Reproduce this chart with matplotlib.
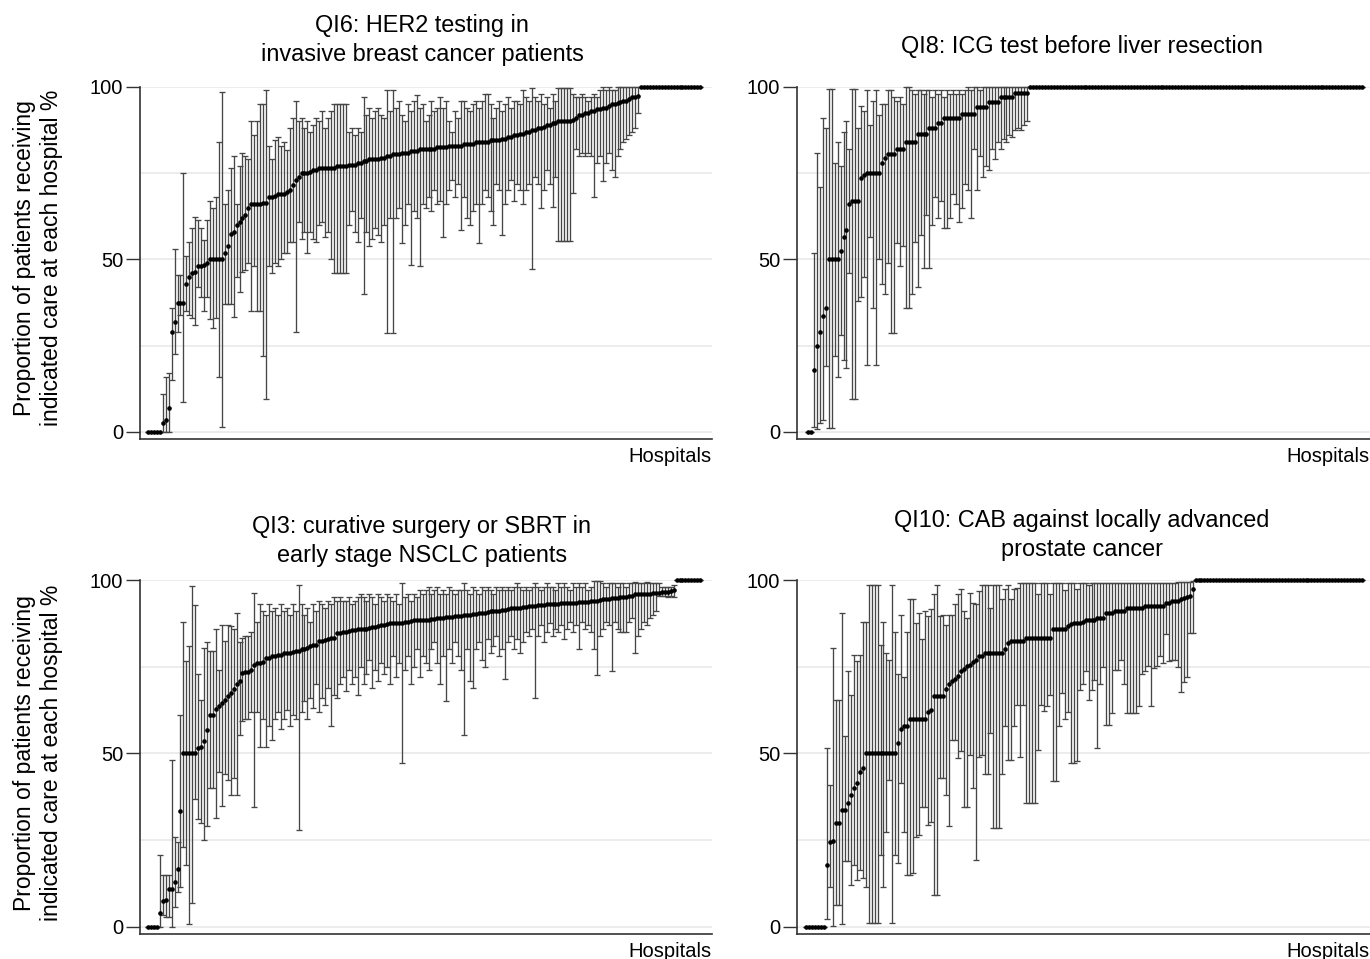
import numpy as np
import matplotlib
matplotlib.use("Agg")
import matplotlib.pyplot as plt

# QI6: HER2 testing (top left) - point estimate and 95% CI per hospital, sorted
qi6_rate = [
    0, 0, 0, 0, 0, 2.5, 3.5, 7, 29, 32,
    37.5, 37.5, 37.5, 43, 45, 46, 46.5, 48, 48, 48.5,
    49, 50, 50, 50, 50, 50, 52, 54, 57.5, 58,
    60, 61, 62, 63, 65, 66, 66, 66, 66, 66.5,
    66.5, 68, 68, 68.5, 69, 69, 69, 69.5, 70, 71.5,
    73, 74, 75, 75, 75, 75.5, 76, 76, 76.5, 76.5,
    76.5, 76.5, 76.5, 76.5, 77, 77, 77, 77, 77.5, 77.5,
    77.5, 78, 78, 78.5, 78.5, 79, 79, 79, 79, 79.5,
    79.5, 80, 80, 80.5, 80.5, 80.5, 81, 81, 81, 81.5,
    81.5, 81.5, 82, 82, 82, 82, 82, 82, 82.5, 82.5,
    82.5, 82.5, 83, 83, 83, 83, 83, 83.5, 83.5, 83.5,
    83.5, 84, 84, 84, 84, 84, 84.5, 84.5, 84.5, 84.5,
    85, 85, 85.5, 85.5, 86, 86, 86.5, 86.5, 87, 87,
    87.5, 87.5, 88, 88, 88.5, 89, 89, 89.5, 89.5, 90,
    90, 90, 90, 90, 90.5, 91, 92, 92, 92.5, 92.5,
    93, 93, 93.5, 93.5, 94, 94, 94.5, 95, 95, 95.5,
    95.6, 96, 96, 96.5, 97, 97, 97.5, 100, 100, 100,
    100, 100, 100, 100, 100, 100, 100, 100, 100, 100,
    100, 100, 100, 100, 100, 100, 100, 100,
]
qi6_lo = [
    0, 0, 0, 0, 0, 0, 0, 0, 15, 22.5,
    29, 34, 8.6, 35, 34, 33, 31, 42, 39, 35,
    39, 32.7, 30, 33, 16, 1.5, 37, 37, 37, 33.4,
    45, 40.7, 46.5, 47, 49, 35, 48, 35, 35, 22,
    9.5, 48, 46, 49, 48, 50, 52, 52, 55, 55,
    29, 61, 56, 58, 52, 58, 56, 55, 60, 61,
    56.6, 58, 50, 46, 46, 46, 46, 46, 60, 64,
    58, 55, 62, 40, 58, 54, 56, 59, 57, 55,
    60, 28.6, 62, 28.6, 62, 65, 54.7, 60, 66, 48.4,
    64, 62, 48, 66, 65, 68, 64, 70, 66, 67,
    56.6, 66, 70, 73, 68, 72, 58.5, 68, 62, 60,
    64, 66, 54.7, 66, 70, 68, 64, 60, 72, 70,
    57, 66, 70, 73, 67, 72, 70, 66, 70, 72,
    47.2, 74, 72, 65, 70, 76, 72, 65.3, 74, 55.5,
    55.5, 55.5, 55.5, 55.5, 69.4, 82, 80, 81, 80, 81,
    80, 68, 78, 80, 72.7, 78, 81, 76, 74, 80,
    82, 84, 85, 86, 87, 88, 92.4, 100, 100, 100,
    100, 100, 100, 100, 100, 100, 100, 100, 100, 100,
    100, 100, 100, 100, 100, 100, 100, 100,
]
qi6_hi = [
    0, 0, 0, 0, 0, 11, 16, 17, 36, 53,
    45.5, 45.5, 75, 51, 55, 59, 62.4, 61.5, 59, 55.7,
    61.5, 67, 65, 68, 84, 98.6, 66, 70, 76.4, 80,
    66, 77, 81, 80, 79, 90, 86, 90, 95, 95,
    99, 83, 79, 84.6, 85.6, 83, 84, 81.7, 88, 91,
    96, 90, 91, 88, 90, 87, 89, 91, 90, 93,
    88, 91, 93, 95, 95, 95, 95, 95, 87, 88,
    86, 88, 87, 97, 92, 94, 91, 93, 94, 92,
    91, 99, 93, 99, 94, 96, 92, 90, 95, 93,
    96, 97.7, 94, 95, 90, 92, 96, 93, 94, 97,
    94, 96, 90, 87, 93, 91, 96, 96, 94, 93,
    95, 96, 94, 96, 98, 98, 95, 91, 94, 96,
    93, 95, 97, 94, 96, 96, 95, 99, 97, 96,
    99.6, 97, 96, 98, 95, 97, 94, 98, 96, 99.6,
    99.6, 99.6, 99.6, 99.6, 98, 97, 97, 98, 97, 96,
    97, 98, 97, 99, 100, 99, 100, 99, 99, 100,
    100, 100, 100, 100, 100, 100, 100, 100, 100, 100,
    100, 100, 100, 100, 100, 100, 100, 100, 100, 100,
    100, 100, 100, 100, 100, 100, 100, 100,
]

# QI8: ICG test before liver resection (top right)
qi8_rate = [
    0, 0, 18, 25, 29, 33.5, 36, 50, 50, 50,
    50, 52.5, 56.5, 58.5, 66, 67, 67, 67, 73.5, 74.5,
    75, 75, 75, 75, 75, 78, 79.5, 80.6, 80.6, 80.6,
    82, 82, 82, 84.2, 84.2, 84.2, 84.2, 86.4, 86.4, 86.4,
    86.4, 88, 88, 88, 89.7, 89.7, 90.9, 90.9, 90.9, 90.9,
    90.9, 90.9, 92.2, 92.2, 92.2, 92.2, 92.2, 94.3, 94.3, 94.3,
    94.3, 95.7, 95.7, 95.7, 95.7, 97.2, 97.2, 97.2, 97.2, 97.2,
    98.2, 98.2, 98.2, 98.2, 98.2, 100, 100, 100, 100, 100,
    100, 100, 100, 100, 100, 100, 100, 100, 100, 100,
    100, 100, 100, 100, 100, 100, 100, 100, 100, 100,
    100, 100, 100, 100, 100, 100, 100, 100, 100, 100,
    100, 100, 100, 100, 100, 100, 100, 100, 100, 100,
    100, 100, 100, 100, 100, 100, 100, 100, 100, 100,
    100, 100, 100, 100, 100, 100, 100, 100, 100, 100,
    100, 100, 100, 100, 100, 100, 100, 100, 100, 100,
    100, 100, 100, 100, 100, 100, 100, 100, 100, 100,
    100, 100, 100, 100, 100, 100, 100, 100, 100, 100,
    100, 100, 100, 100, 100, 100, 100, 100, 100, 100,
    100, 100, 100, 100, 100, 100, 100, 100,
]
qi8_lo = [
    0, 0, 1.5, 1, 2.5, 3.5, 19, 1.2, 1.2, 22,
    16, 28, 21, 18.5, 46, 9.5, 9.5, 38, 39, 45,
    19.4, 56.6, 36, 19.4, 50, 43, 40, 49, 28.6, 28.6,
    54.7, 48, 54, 35.8, 35.8, 40, 55, 42, 57, 47.4,
    63, 47.4, 60, 68, 62, 67, 59, 59, 62, 69,
    66, 61, 65, 72, 70, 62, 82, 70, 80, 74,
    77, 76, 82, 79, 84, 82, 85, 84, 86, 85.6,
    87.5, 88, 87.5, 89, 90, 100, 100, 100, 100, 100,
    100, 100, 100, 100, 100, 100, 100, 100, 100, 100,
    100, 100, 100, 100, 100, 100, 100, 100, 100, 100,
    100, 100, 100, 100, 100, 100, 100, 100, 100, 100,
    100, 100, 100, 100, 100, 100, 100, 100, 100, 100,
    100, 100, 100, 100, 100, 100, 100, 100, 100, 100,
    100, 100, 100, 100, 100, 100, 100, 100, 100, 100,
    100, 100, 100, 100, 100, 100, 100, 100, 100, 100,
    100, 100, 100, 100, 100, 100, 100, 100, 100, 100,
    100, 100, 100, 100, 100, 100, 100, 100, 100, 100,
    100, 100, 100, 100, 100, 100, 100, 100, 100, 100,
    100, 100, 100, 100, 100, 100, 100, 100,
]
qi8_hi = [
    0, 0, 52, 81, 71, 91, 88, 99.3, 99.3, 78,
    84, 77, 87, 90, 82, 99.3, 99.3, 88, 94.5, 93,
    99, 89, 96, 99, 92, 95, 95, 99, 99, 97,
    96, 97, 95, 100, 100, 99, 98, 99, 99, 98,
    99, 99, 97, 99, 98, 99, 97, 99, 98, 99,
    98, 99, 98, 99, 100, 99, 100, 100, 99, 100,
    100, 100, 100, 100, 100, 100, 100, 100, 100, 100,
    100, 100, 100, 100, 100, 100, 100, 100, 100, 100,
    100, 100, 100, 100, 100, 100, 100, 100, 100, 100,
    100, 100, 100, 100, 100, 100, 100, 100, 100, 100,
    100, 100, 100, 100, 100, 100, 100, 100, 100, 100,
    100, 100, 100, 100, 100, 100, 100, 100, 100, 100,
    100, 100, 100, 100, 100, 100, 100, 100, 100, 100,
    100, 100, 100, 100, 100, 100, 100, 100, 100, 100,
    100, 100, 100, 100, 100, 100, 100, 100, 100, 100,
    100, 100, 100, 100, 100, 100, 100, 100, 100, 100,
    100, 100, 100, 100, 100, 100, 100, 100, 100, 100,
    100, 100, 100, 100, 100, 100, 100, 100, 100, 100,
    100, 100, 100, 100, 100, 100, 100, 100,
]

# QI3: curative surgery or SBRT in early stage NSCLC (bottom left)
qi3_rate = [
    0, 0, 0, 0, 4.1, 7.5, 7.8, 10.9, 10.9, 13,
    16.7, 33.3, 50, 50, 50, 50, 50, 51.6, 52, 53.7,
    56.9, 61.2, 61.2, 62.7, 63.8, 64.6, 65.5, 66.5, 67.5, 68.6,
    69.9, 70.8, 73.2, 73.4, 73.4, 74.2, 75.6, 76.1, 76.1, 76.5,
    77.6, 77.6, 78, 78, 78.5, 78.5, 79, 79, 79, 79.3,
    79.5, 79.5, 80, 80, 80.5, 81, 81.4, 81.4, 82.4, 82.4,
    82.8, 83, 83.3, 83.3, 84.8, 84.8, 85, 85, 85.2, 85.5,
    85.5, 85.8, 85.8, 86, 86, 86.3, 86.5, 86.5, 86.8, 87,
    87, 87.2, 87.5, 87.5, 87.7, 87.7, 87.7, 88, 88, 88.2,
    88.4, 88.6, 88.6, 88.6, 88.6, 88.6, 88.8, 88.8, 89, 89,
    89, 89.2, 89.2, 89.4, 89.6, 89.6, 89.6, 89.8, 90, 90,
    90.2, 90.2, 90.4, 90.6, 90.6, 90.8, 91, 91, 91.2, 91.2,
    91.4, 91.4, 91.6, 91.8, 92, 92, 92, 92.2, 92.3, 92.5,
    92.5, 92.6, 92.7, 92.8, 92.8, 93, 93, 93, 93.1, 93.2,
    93.3, 93.3, 93.4, 93.5, 93.5, 93.5, 93.6, 93.7, 93.8, 93.8,
    94, 94, 94, 94.2, 94.4, 94.5, 94.6, 94.7, 94.8, 94.9,
    95, 95, 95, 95.3, 95.5, 95.9, 95.9, 95.9, 96, 96,
    96, 96.3, 96.3, 96.3, 96.5, 96.6, 96.6, 96.8, 97, 100,
    100, 100, 100, 100, 100, 100, 100, 100,
]
qi3_lo = [
    0, 0, 0, 0, 0, 3.5, 3, 3, 0, 5.9,
    10, 11.6, 23, 18, 1, 6.8, 37, 31, 30, 25,
    29, 40, 40, 31.4, 44.8, 35, 44, 42.5, 38, 43,
    38, 55.4, 59.3, 59.8, 59.8, 61.9, 34.5, 62, 52, 60,
    52, 58, 54, 60, 62, 57, 60, 62.6, 58, 61,
    60, 28, 62, 65, 60, 66, 63, 70, 62, 66,
    64, 69, 58, 67, 66, 70, 72, 68, 74, 70,
    72, 67, 75, 70, 73, 77, 69, 74, 71, 76,
    73, 75, 70, 78, 72, 76, 47.2, 74, 78, 70,
    75, 80, 72, 78, 76, 74, 80, 82, 76, 70,
    78, 65, 80, 76, 82, 78, 74, 55.4, 80, 71,
    69, 80, 82, 77, 75, 83, 79, 81, 84, 78,
    80, 71.5, 82, 84, 80, 83, 79, 82, 85, 84,
    86, 66, 84, 87, 82, 85, 87.6, 84, 86, 85,
    87, 83, 86, 88, 85, 87, 80, 88, 86, 87,
    85, 80, 72.5, 84, 86, 88, 87, 73.7, 88, 86,
    85, 85, 85, 88, 89, 79, 84, 86, 88, 87,
    89, 90, 91, 95.4, 95.4, 95.4, 95, 95.4, 95, 100,
    100, 100, 100, 100, 100, 100, 100, 100,
]
qi3_hi = [
    0, 0, 0, 0, 20.8, 15, 15, 15, 48, 25.8,
    24.4, 61, 88, 76.6, 81, 98.4, 92.7, 72.8, 65.5, 80.5,
    82, 79.5, 79.5, 85.8, 74, 87, 82.4, 87, 86.7, 86,
    90.6, 82, 83.3, 83.8, 83.8, 85, 96.3, 88, 93, 91,
    90, 93, 91, 92, 90, 93, 91, 92, 90, 93,
    91, 98.7, 93, 90, 92, 88, 93, 91, 94, 93,
    92, 94, 93, 95, 94, 95, 94, 94, 95, 93,
    94, 95, 96, 95, 94, 96, 95, 93, 96, 95,
    94, 96, 95, 94, 96, 93, 99.2, 95, 96, 94,
    96, 95, 97, 96, 97, 98, 96, 97, 98, 96,
    97, 96, 98, 97, 96, 97, 97, 99.2, 97, 96,
    98, 97, 96, 98, 97, 98, 97, 96, 98, 97,
    98, 97, 98, 97, 98, 99, 98, 97, 98, 97,
    98, 99.2, 98, 97, 98, 99, 98, 98, 97, 99,
    98, 99, 98, 97, 99, 98, 99, 98, 99, 97,
    98, 99.6, 99.6, 99.6, 99, 98, 99, 99, 99, 98,
    99, 99, 98, 99, 99, 99.5, 99, 99, 99, 99.5,
    99, 99, 99, 99, 98, 98, 98, 98, 98.5, 100,
    100, 100, 100, 100, 100, 100, 100, 100,
]

# QI10: CAB against locally advanced prostate cancer (bottom right)
qi10_rate = [
    0, 0, 0, 0, 0, 0, 0, 18, 24.4, 24.8,
    30, 30, 33.6, 33.6, 35.7, 38, 40, 41.5, 44.8, 45.8,
    50, 50, 50, 50, 50, 50, 50, 50, 50, 50,
    50, 53, 57, 58, 58, 60, 60, 60, 60, 60,
    60, 61.9, 62.6, 66.5, 66.5, 66.5, 66.5, 68.6, 70, 70.8,
    71.5, 72.3, 73.7, 74.4, 75.2, 75.6, 76.3, 77, 78, 78,
    79, 79, 79, 79, 79, 79, 79, 80, 81.7, 82.4,
    82.4, 82.4, 82.4, 82.4, 83.3, 83.3, 83.3, 83.3, 83.3, 83.3,
    83.3, 83.3, 83.3, 85.8, 85.8, 85.8, 85.8, 85.8, 86.7, 87.2,
    87.7, 87.7, 87.7, 88, 88.6, 88.6, 88.6, 88.6, 89.1, 89.1,
    89.1, 90.6, 90.6, 90.6, 91, 91, 91, 91, 92, 92,
    92, 92, 92, 92, 92.5, 92.5, 92.5, 92.5, 92.5, 92.5,
    92.5, 93.5, 93.5, 94, 94, 94, 94.4, 94.8, 95, 95.4,
    97.3, 100, 100, 100, 100, 100, 100, 100, 100, 100,
    100, 100, 100, 100, 100, 100, 100, 100, 100, 100,
    100, 100, 100, 100, 100, 100, 100, 100, 100, 100,
    100, 100, 100, 100, 100, 100, 100, 100, 100, 100,
    100, 100, 100, 100, 100, 100, 100, 100, 100, 100,
    100, 100, 100, 100, 100, 100, 100, 100,
]
qi10_lo = [
    0, 0, 0, 0, 0, 0, 0, 2.2, 11.6, 0.3,
    6.4, 6.4, 1, 19, 19, 12, 18, 13.6, 16.5, 14,
    11.6, 1.2, 1.2, 1.2, 1.2, 20.8, 11.6, 27.5, 42.4, 1.2,
    20.8, 18.4, 41.5, 27.5, 15, 15, 15.5, 26, 26.5, 34.7,
    34.7, 29.5, 30.4, 9.2, 9.2, 43, 43, 38, 29, 54,
    54, 48.7, 50.6, 34.7, 34.7, 49.7, 40, 19.3, 49, 49.7,
    44, 44, 56, 28.5, 28.5, 28.5, 44, 57.8, 48, 48,
    57.8, 64, 49, 64, 35.7, 35.7, 35.7, 35.7, 51, 64,
    62.2, 63.6, 67, 42, 42, 57.8, 67.3, 59.8, 62, 47.2,
    47.2, 47.7, 68.4, 70, 73.7, 65.5, 68.4, 71.3, 51.6, 70,
    75, 58.3, 58.3, 61.7, 74, 74, 77, 70, 61.7, 61.7,
    61.7, 61.7, 63.6, 72.8, 73.7, 75.2, 63.6, 74.7, 75.2, 78,
    76, 84.3, 76.6, 77, 77, 75, 67.7, 70.7, 72, 84.7,
    84.8, 100, 100, 100, 100, 100, 100, 100, 100, 100,
    100, 100, 100, 100, 100, 100, 100, 100, 100, 100,
    100, 100, 100, 100, 100, 100, 100, 100, 100, 100,
    100, 100, 100, 100, 100, 100, 100, 100, 100, 100,
    100, 100, 100, 100, 100, 100, 100, 100, 100, 100,
    100, 100, 100, 100, 100, 100, 100, 100,
]
qi10_hi = [
    0, 0, 0, 0, 0, 0, 0, 51.6, 41, 80.5,
    65.4, 65.4, 90.6, 55, 73.7, 67, 78.5, 76.6, 78.5, 88,
    88, 98.7, 98.7, 98.7, 98.7, 81.4, 88, 79, 77, 98.7,
    85, 73, 90, 72, 85, 94.6, 94.6, 87.7, 90.6, 83,
    91, 89.6, 91.5, 96, 98.7, 89.6, 90, 87, 90, 90,
    93, 96, 97.3, 91, 89, 96.3, 93.5, 93, 96.8, 98.7,
    98.7, 98.7, 92, 98.7, 98.7, 98.7, 94.4, 97.3, 98.7, 94.4,
    97.3, 97.8, 99.2, 99.2, 99.2, 99.2, 99.2, 99.2, 96, 99.2,
    99, 99.2, 96, 99.2, 99.2, 99.2, 99.2, 97, 99.2, 99.2,
    99.2, 97.3, 99.2, 99.2, 99.2, 98.7, 99.2, 99.2, 99.2, 99.2,
    99.2, 99.2, 99.2, 99.2, 99.2, 99.2, 99.2, 99.2, 99.2, 99.2,
    99.2, 99.2, 99.2, 99.2, 99.2, 99.2, 99.2, 99.2, 99.2, 99.2,
    99.2, 99.2, 99.2, 99.2, 99.2, 99.5, 99.5, 99.5, 99.5, 99.5,
    99.6, 100, 100, 100, 100, 100, 100, 100, 100, 100,
    100, 100, 100, 100, 100, 100, 100, 100, 100, 100,
    100, 100, 100, 100, 100, 100, 100, 100, 100, 100,
    100, 100, 100, 100, 100, 100, 100, 100, 100, 100,
    100, 100, 100, 100, 100, 100, 100, 100, 100, 100,
    100, 100, 100, 100, 100, 100, 100, 100,
]

titles = [
    "QI6: HER2 testing in\ninvasive breast cancer patients",
    "QI8: ICG test before liver resection",
    "QI3: curative surgery or SBRT in\nearly stage NSCLC patients",
    "QI10: CAB against locally advanced\nprostate cancer",
]
ylabel = "Proportion of patients receiving\nindicated care at each hospital %"

plt.rcParams["font.family"] = ["Liberation Sans", "DejaVu Sans"]
TICK_FS = 14.5
TITLE_FS = 16.9
YLAB_FS = 16.5

W, H = 1370, 959
fig = plt.figure(figsize=(W / 100, H / 100), dpi=100)


def px_axes(left, right, top, bottom):
    return fig.add_axes([left / W, 1 - bottom / H, (right - left) / W, (bottom - top) / H])


def draw(ax, rate, lo, hi, x0, x1, ymin, title, title_y, title_x):
    rate = np.array(rate, dtype=float)
    lo = np.array(lo, dtype=float)
    hi = np.array(hi, dtype=float)
    x = np.arange(len(rate))
    for g in (0, 25, 50, 75, 100):
        ax.axhline(g, color="#ebebeb", lw=1.3, zorder=0)
    ax.errorbar(x, rate, yerr=[rate - lo, hi - rate], fmt="o", ms=2.3,
                mfc="black", mec="black", ecolor="#464646", elinewidth=0.95,
                capsize=2.0, capthick=0.95, clip_on=False, zorder=3)
    ax.set_xlim(x0, x1)
    ax.set_ylim(ymin, 100)
    ax.set_xticks([])
    ax.set_yticks([0, 50, 100])
    ax.tick_params(axis="y", length=10, width=1.0, color="#333333",
                   labelsize=TICK_FS, pad=2)
    for s in ("top", "right"):
        ax.spines[s].set_visible(False)
    for s in ("left", "bottom"):
        ax.spines[s].set_color("#333333")
        ax.spines[s].set_linewidth(1.2)
    ax.text(1.0, -0.024, "Hospitals", transform=ax.transAxes, ha="right",
            va="top", fontsize=TICK_FS)
    fig.text(title_x / W, 1 - title_y / H, title, ha="center", va="center",
             fontsize=TITLE_FS, linespacing=1.3)


ax1 = px_axes(140, 712, 87, 439)
draw(ax1, qi6_rate, qi6_lo, qi6_hi, -2.7, 191, -2.03, titles[0], 40, 422)
ax2 = px_axes(797, 1370, 87, 439)
draw(ax2, qi8_rate, qi8_lo, qi8_hi, -3.7, 189.7, -2.03, titles[1], 46, 1082)
ax3 = px_axes(140, 712, 580, 934)
draw(ax3, qi3_rate, qi3_lo, qi3_hi, -2.7, 191, -2.02, titles[2], 541, 422)
ax4 = px_axes(797, 1370, 580, 934)
draw(ax4, qi10_rate, qi10_lo, qi10_hi, -3.1, 189.7, -2.02, titles[3], 535, 1082)

fig.text(38 / W, 1 - 258 / H, ylabel, rotation=90, ha="center", va="center",
         fontsize=YLAB_FS, linespacing=1.2)
fig.text(38 / W, 1 - 753 / H, ylabel, rotation=90, ha="center", va="center",
         fontsize=YLAB_FS, linespacing=1.2)

fig.savefig("out.png", dpi=100)
